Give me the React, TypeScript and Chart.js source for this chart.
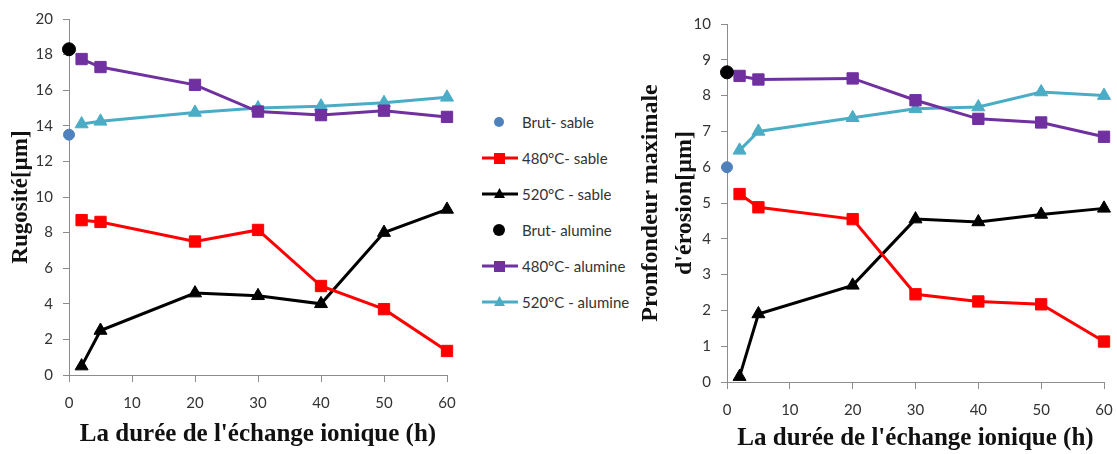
import React, { useEffect, useRef } from 'react';
import { Chart, registerables } from 'chart.js';

Chart.register(...registerables);

// ---------- DATA ----------
const hours = [2, 5, 20, 30, 40, 50, 60];
const brutHours = [0];

// Left panel: Rugosité [µm]
const rugBrutSable = [13.5];
const rugSable480 = [8.7, 8.6, 7.5, 8.15, 5.0, 3.7, 1.35];
const rugSable520 = [0.5, 2.5, 4.6, 4.45, 4.0, 8.0, 9.3];
const rugBrutAlumine = [18.3];
const rugAlumine480 = [17.75, 17.3, 16.3, 14.8, 14.6, 14.85, 14.5];
const rugAlumine520 = [14.1, 14.25, 14.75, 15.0, 15.1, 15.3, 15.6];

// Right panel: Profondeur maximale d'érosion [µm]
const proBrutSable = [6.0];
const proSable480 = [5.25, 4.88, 4.55, 2.45, 2.25, 2.17, 1.13];
const proSable520 = [0.15, 1.9, 2.7, 4.55, 4.47, 4.68, 4.85];
const proBrutAlumine = [8.65];
const proAlumine480 = [8.55, 8.45, 8.48, 7.87, 7.35, 7.25, 6.85];
const proAlumine520 = [6.47, 7.0, 7.38, 7.63, 7.68, 8.1, 8.0];

const seriesLabels = [
  'Brut- sable',
  '480°C- sable',
  '520°C - sable',
  'Brut- alumine',
  '480°C- alumine',
  '520°C - alumine',
];

const xTitle = "La durée de l'échange ionique (h)";
const leftYTitle = 'Rugosité[µm]';
const rightYTitle = ['Pronfondeur maximale', "d'érosion[µm]"];

// ---------- STYLES ----------
const COLORS = ['#4F81BD', '#FF0000', '#000000', '#000000', '#7030A0', '#4BACC6'];
const MARKERS = ['circle', 'rect', 'triangle', 'circle', 'rect', 'triangle'];
const RADII = [5.5, 8, 7.5, 6.5, 8, 7.5];
const HAS_LINE = [false, true, true, false, true, true];

const AXIS_COLOR = '#8c8c8c';
const TICK_COLOR = '#333333';
const TICK_FONT = { family: 'Lato', size: 15 };
const X_TICK_FONT = { family: 'Lato', size: 15, lineHeight: 2.4 };

function pts(xs: number[], ys: number[]) {
  return xs.map((x, i) => ({ x, y: ys[i] }));
}

function buildDatasets(arrs: number[][]) {
  return arrs.map((ys, i) => ({
    label: seriesLabels[i],
    data: pts(HAS_LINE[i] ? hours : brutHours, ys),
    borderColor: COLORS[i],
    backgroundColor: COLORS[i],
    pointBackgroundColor: COLORS[i],
    pointBorderColor: COLORS[i],
    pointStyle: MARKERS[i],
    pointRadius: RADII[i],
    pointBorderWidth: 1,
    borderWidth: 3,
    showLine: HAS_LINE[i],
    tension: 0,
    clip: false,
  }));
}

type Geo = {
  yMax: number;
  yStep: number;
  yTitle: string | string[];
  yTitleSize: number;
  yTitleLineHeight: number;
  yTitlePadTop: number;
  yAxisWidth: number;
  xAxisHeight: number;
  xTitlePadBottom: number;
  padTop: number;
  padRight: number;
};

function makeOptions(g: Geo): any {
  return {
    responsive: true,
    maintainAspectRatio: false,
    animation: false,
    clip: false,
    layout: { padding: { top: g.padTop, right: g.padRight, left: 0, bottom: 0 } },
    plugins: { legend: { display: false }, tooltip: { enabled: false } },
    scales: {
      x: {
        type: 'linear',
        min: 0,
        max: 60,
        ticks: { stepSize: 10, color: TICK_COLOR, font: X_TICK_FONT, padding: 3, maxRotation: 0 },
        grid: { display: true, drawOnChartArea: false, drawTicks: true, tickLength: 7, color: AXIS_COLOR, lineWidth: 1 },
        border: { display: true, color: AXIS_COLOR, width: 1 },
        title: {
          display: true,
          text: xTitle,
          color: '#111111',
          font: { family: 'Liberation Serif', size: 25, weight: 'bold' },
          padding: { top: 0, bottom: g.xTitlePadBottom },
        },
        afterFit: (s: any) => {
          s.height = g.xAxisHeight;
        },
      },
      y: {
        type: 'linear',
        min: 0,
        max: g.yMax,
        ticks: { stepSize: g.yStep, color: TICK_COLOR, font: TICK_FONT, padding: 10 },
        grid: { display: true, drawOnChartArea: false, drawTicks: true, tickLength: 6, color: AXIS_COLOR, lineWidth: 1 },
        border: { display: true, color: AXIS_COLOR, width: 1 },
        title: {
          display: true,
          text: g.yTitle,
          color: '#111111',
          font: { family: 'Liberation Serif', size: g.yTitleSize, weight: 'bold', lineHeight: g.yTitleLineHeight },
          padding: { top: g.yTitlePadTop, bottom: 0 },
        },
        afterFit: (s: any) => {
          s.width = g.yAxisWidth;
        },
      },
    },
  };
}

function LineChart({ datasets, geo }: { datasets: any[]; geo: Geo }) {
  const ref = useRef<HTMLCanvasElement | null>(null);
  useEffect(() => {
    if (!ref.current) return;
    const chart = new Chart(ref.current, {
      type: 'line',
      data: { datasets },
      options: makeOptions(geo),
    });
    return () => chart.destroy();
  }, []);
  return <canvas ref={ref} />;
}

function LegendSymbol({ i }: { i: number }) {
  const c = COLORS[i];
  const m = MARKERS[i];
  return (
    <svg width={36} height={18} style={{ display: 'block' }}>
      {HAS_LINE[i] && <line x1={0} y1={9} x2={36} y2={9} stroke={c} strokeWidth={3} />}
      {m === 'circle' && <circle cx={17} cy={9} r={i === 3 ? 6 : 5} fill={c} />}
      {m === 'rect' && <rect x={12} y={4} width={11} height={11} fill={c} />}
      {m === 'triangle' && <polygon points="17.5,3 23,13 12,13" fill={c} />}
    </svg>
  );
}

export default function App() {
  const leftDatasets = buildDatasets([
    rugBrutSable,
    rugSable480,
    rugSable520,
    rugBrutAlumine,
    rugAlumine480,
    rugAlumine520,
  ]);
  const rightDatasets = buildDatasets([
    proBrutSable,
    proSable480,
    proSable520,
    proBrutAlumine,
    proAlumine480,
    proAlumine520,
  ]);

  const leftGeo: Geo = {
    yMax: 20,
    yStep: 2,
    yTitle: leftYTitle,
    yTitleSize: 23,
    yTitleLineHeight: 1.2,
    yTitlePadTop: 7,
    yAxisWidth: 69,
    xAxisHeight: 79,
    xTitlePadBottom: 4,
    padTop: 18,
    padRight: 23,
  };
  const rightGeo: Geo = {
    yMax: 10,
    yStep: 1,
    yTitle: rightYTitle,
    yTitleSize: 24,
    yTitleLineHeight: 1.4,
    yTitlePadTop: 4,
    yAxisWidth: 97,
    xAxisHeight: 72,
    xTitlePadBottom: 0,
    padTop: 24,
    padRight: 13,
  };

  return (
    <div
      style={{
        position: 'absolute',
        left: 0,
        top: 0,
        width: 1117,
        height: 454,
        background: '#ffffff',
        overflow: 'hidden',
      }}
    >
      <div style={{ position: 'absolute', left: 0, top: 0, width: 470, height: 454 }}>
        <LineChart datasets={leftDatasets} geo={leftGeo} />
      </div>
      <div style={{ position: 'absolute', left: 630, top: 0, width: 487, height: 454 }}>
        <LineChart datasets={rightDatasets} geo={rightGeo} />
      </div>
      {seriesLabels.map((lab, i) => (
        <div
          key={lab}
          style={{
            position: 'absolute',
            left: 482,
            top: 122 + i * 36 - 10,
            height: 20,
            display: 'flex',
            alignItems: 'center',
            fontFamily: 'Lato',
            fontSize: 15,
            color: '#333333',
            whiteSpace: 'nowrap',
          }}
        >
          <LegendSymbol i={i} />
          <span style={{ marginLeft: 4 }}>{lab}</span>
        </div>
      ))}
    </div>
  );
}
